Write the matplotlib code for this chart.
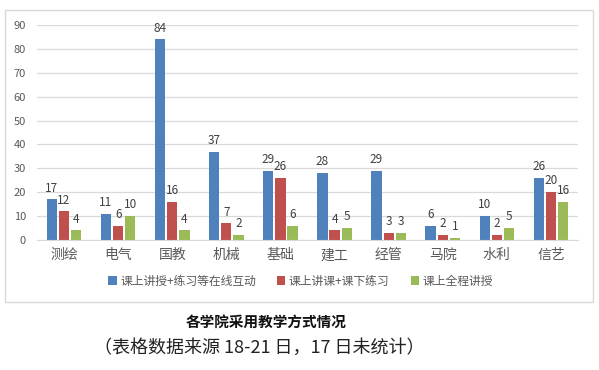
import matplotlib.pyplot as plt
import matplotlib.patches as mpatches
import numpy as np

plt.rcParams['font.family'] = ['Noto Sans CJK SC', 'DejaVu Sans']

# data
colleges = ['测绘', '电气', '国教', '机械', '基础', '建工', '经管', '马院', '水利', '信艺']
online = [17, 11, 84, 37, 29, 28, 29, 6, 10, 26]
lecture_practice = [12, 6, 16, 7, 26, 4, 3, 2, 2, 20]
lecture_only = [4, 10, 4, 2, 6, 5, 3, 1, 5, 16]
series_names = ['课上讲授+练习等在线互动', '课上讲课+课下练习', '课上全程讲授']
colors = ['#4F81BD', '#C0504D', '#9BBB59']

fig = plt.figure(figsize=(5.99, 3.70), dpi=100)
fig.patch.set_facecolor('white')

# chart frame
fig.patches.append(mpatches.Rectangle((5/599, 1 - 302/370), 588/599, 292/370,
                                      transform=fig.transFigure, fill=False,
                                      edgecolor='#D9D9D9', linewidth=1))

ax = fig.add_axes([37/599, 1 - 240/370, 541/599, 215/370])
x = np.arange(len(colleges))
w = 0.19
offs = [-0.225, 0, 0.225]
for vals, off, c, name in zip([online, lecture_practice, lecture_only], offs, colors, series_names):
    bars = ax.bar(x + off, vals, width=w, color=c, label=name, zorder=2)
    for b, v in zip(bars, vals):
        ax.text(b.get_x() + b.get_width() / 2, v + 2.0, str(v), ha='center', va='bottom',
                fontsize=8.5, color='#404040', clip_on=False)

ax.set_xlim(-0.5, len(colleges) - 0.5)
ax.set_ylim(0, 90)
ax.set_yticks(range(0, 91, 10))
ax.yaxis.grid(True, color='#D9D9D9', linewidth=0.9, zorder=0)
for s in ['top', 'right', 'left']:
    ax.spines[s].set_visible(False)
ax.spines['bottom'].set_color('#D9D9D9')
ax.tick_params(axis='both', length=0, colors='#595959')
ax.tick_params(axis='y', labelsize=8, pad=8)
ax.set_xticks(x)
ax.set_xticklabels(colleges, fontsize=10, color='#595959')
ax.tick_params(axis='x', pad=6)

leg = fig.legend(loc='center', bbox_to_anchor=(0.502, 1 - 281/370), ncol=3, frameon=False,
                 fontsize=8.5, handlelength=0.7, handleheight=0.7, handletextpad=0.3,
                 columnspacing=1.8)
for t in leg.get_texts():
    t.set_color('#595959')

fig.text(266/599, 1 - 322/370, '各学院采用教学方式情况', ha='center', va='center',
         fontsize=10.5, fontweight='bold', color='#111111')
fig.text(259/599, 1 - 348/370, '（表格数据来源 18-21 日，17 日未统计）', ha='center', va='center',
         fontsize=13, fontweight='light', color='#222222')

fig.savefig('out.png', dpi=100)
